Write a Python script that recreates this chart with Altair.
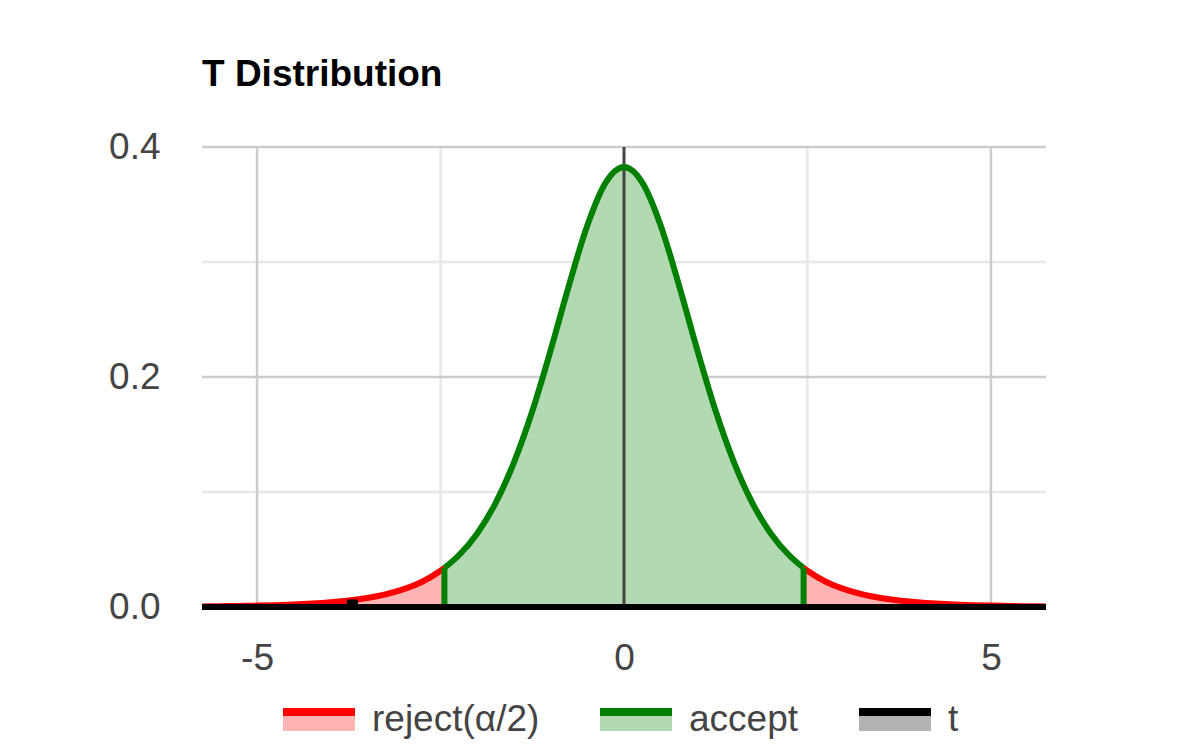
import altair as alt
import pandas as pd

# ---- values (Student t density, two-sided test) ----
series_names = ["reject(α/2)", "accept", "t"]
series_line_colors = ["#ff0000", "#008000", "#000000"]
series_fill_colors = ["#ffb3b3", "#b3d9b3", "#b3b3b3"]

accept_x = [-2.447, -2.25, -2.0, -1.75, -1.5, -1.25, -1.0, -0.75, -0.5, -0.25, 0.0,
            0.25, 0.5, 0.75, 1.0, 1.25, 1.5, 1.75, 2.0, 2.25, 2.447]
accept_y = [0.0340, 0.0450, 0.0640, 0.0904, 0.1256, 0.1702, 0.2231, 0.2797, 0.3318, 0.3691, 0.3827,
            0.3691, 0.3318, 0.2797, 0.2231, 0.1702, 0.1256, 0.0904, 0.0640, 0.0450, 0.0340]

reject_left_x = [-5.75, -5.5, -5.25, -5.0, -4.75, -4.5, -4.25, -4.0, -3.75, -3.5, -3.25,
                 -3.0, -2.75, -2.5, -2.447]
reject_left_y = [0.0005, 0.0007, 0.0009, 0.0012, 0.0016, 0.0022, 0.0030, 0.0041, 0.0056, 0.0078, 0.0110,
                 0.0155, 0.0220, 0.0315, 0.0340]
reject_right_x = [2.447, 2.5, 2.75, 3.0, 3.25, 3.5, 3.75, 4.0, 4.25, 4.5, 4.75,
                  5.0, 5.25, 5.5, 5.75]
reject_right_y = [0.0340, 0.0315, 0.0220, 0.0155, 0.0110, 0.0078, 0.0056, 0.0041, 0.0030, 0.0022, 0.0016,
                  0.0012, 0.0009, 0.0007, 0.0005]

critical_x = [-2.447, 2.447]
critical_y = [0.0340, 0.0340]

t_value = [-3.7]
t_density = [0.0065]
t_baseline_x = [-5.75, 5.75]
t_baseline_y = [0.0, 0.0]

x_domain = [-5.75, 5.75]
y_domain = [0.0, 0.4]
x_tick_values = [-5, 0, 5]
y_tick_values = [0.0, 0.2, 0.4]
x_major_grid = [-5, 5]
x_minor_grid = [-2.5, 2.5]
y_major_grid = [0.2, 0.4]
y_minor_grid = [0.1, 0.3]

# ---- tables ----
def table(xs, ys, name, seg):
    return pd.DataFrame({"x": xs, "y": ys, "base": [0.0] * len(xs), "series": name, "seg": seg})

curves = pd.concat([
    table(reject_left_x, reject_left_y, "reject(α/2)", "left"),
    table(accept_x, accept_y, "accept", "mid"),
    table(reject_right_x, reject_right_y, "reject(α/2)", "right"),
], ignore_index=True)
baseline = table(t_baseline_x, t_baseline_y, "t", "base")
crit = pd.DataFrame({"x": critical_x, "y0": [0.0, 0.0], "y1": critical_y})
tmark = pd.DataFrame({"x": t_value, "y0": [0.0], "y1": t_density})

FONT = "Arial"
LABEL_COLOR = "#444444"
FS = 37
LW = 6

xs = alt.Scale(domain=x_domain, nice=False, zero=False)
ys = alt.Scale(domain=y_domain, nice=False, zero=False)

X = alt.X("x:Q", scale=xs, axis=alt.Axis(values=x_tick_values, labelExpr="'' + datum.value",
                                          grid=False, domain=False, ticks=False,
                                          labelFontSize=FS, labelFont=FONT, labelColor=LABEL_COLOR,
                                          labelPadding=33, labelFlush=False, title=None))
Y = alt.Y("y:Q", scale=ys, stack=None,
          axis=alt.Axis(values=y_tick_values, format=".1f", grid=False, domain=False,
                        ticks=False, labelFontSize=FS, labelFont=FONT,
                        labelColor=LABEL_COLOR, labelPadding=42, labelFlush=False,
                        title=None))

# one merged legend: fill colour below, a dashed stroke draws only the top edge of each symbol
legend = alt.Legend(title=None, orient="none", legendX=81, legendY=537, direction="horizontal",
                    symbolType="M-1.125,-0.25H1.125V0.34375H-1.125Z", symbolSize=4096,
                    symbolStrokeWidth=8, symbolDash=[72, 2000], symbolOpacity=1,
                    labelFontSize=FS, labelFont=FONT, labelColor=LABEL_COLOR, labelOffset=17,
                    labelLimit=600, columnPadding=44)

fill_enc = alt.Fill("series:N", scale=alt.Scale(domain=series_names, range=series_fill_colors),
                    legend=legend)
stroke_enc = alt.Stroke("series:N", scale=alt.Scale(domain=series_names, range=series_line_colors),
                        legend=legend)

def vrules(vals, color, width):
    return alt.Chart(pd.DataFrame({"x": vals})).mark_rule(color=color, strokeWidth=width).encode(
        x=alt.X("x:Q", scale=xs))

def hrules(vals, color, width):
    return alt.Chart(pd.DataFrame({"y": vals})).mark_rule(color=color, strokeWidth=width).encode(
        y=alt.Y("y:Q", scale=ys))

grid = (vrules(x_minor_grid, "#e8e8e8", 2.5) + hrules(y_minor_grid, "#e8e8e8", 2.5)
        + vrules(x_major_grid, "#cccccc", 2.5) + hrules(y_major_grid, "#cccccc", 2.5))

areas = alt.Chart(curves).mark_area(interpolate="monotone", fillOpacity=1, strokeOpacity=0).encode(
    x=X, y=Y, y2=alt.Y2("base:Q"), fill=fill_enc, detail="seg:N")

zero_line = vrules([0], "#444444", 3)

lines = alt.Chart(curves).mark_line(interpolate="monotone", strokeWidth=LW).encode(
    x=alt.X("x:Q", scale=xs), y=alt.Y("y:Q", scale=ys), stroke=stroke_enc, detail="seg:N")

crit_rules = alt.Chart(crit).mark_rule(color="#008000", strokeWidth=LW).encode(
    x=alt.X("x:Q", scale=xs), y=alt.Y("y0:Q", scale=ys), y2="y1:Q")

base_line = alt.Chart(baseline).mark_line(strokeWidth=LW).encode(
    x=alt.X("x:Q", scale=xs), y=alt.Y("y:Q", scale=ys), stroke=stroke_enc)

t_rule = alt.Chart(tmark).mark_rule(color="#000000", strokeWidth=11).encode(
    x=alt.X("x:Q", scale=xs), y=alt.Y("y0:Q", scale=ys), y2="y1:Q")

chart = alt.layer(grid, areas, zero_line, lines, crit_rules, base_line, t_rule).properties(
    width=844, height=460,
    title=alt.TitleParams("T Distribution", anchor="start", frame="group", fontSize=FS,
                          fontWeight="bold", font=FONT, color="#000000", offset=34),
    padding={"left": 194, "top": 139, "right": 127, "bottom": 133},
    autosize="none",
    background="white",
).configure_view(stroke=None)

chart.save("out.html", embed_options={"renderer": "svg", "actions": False})
